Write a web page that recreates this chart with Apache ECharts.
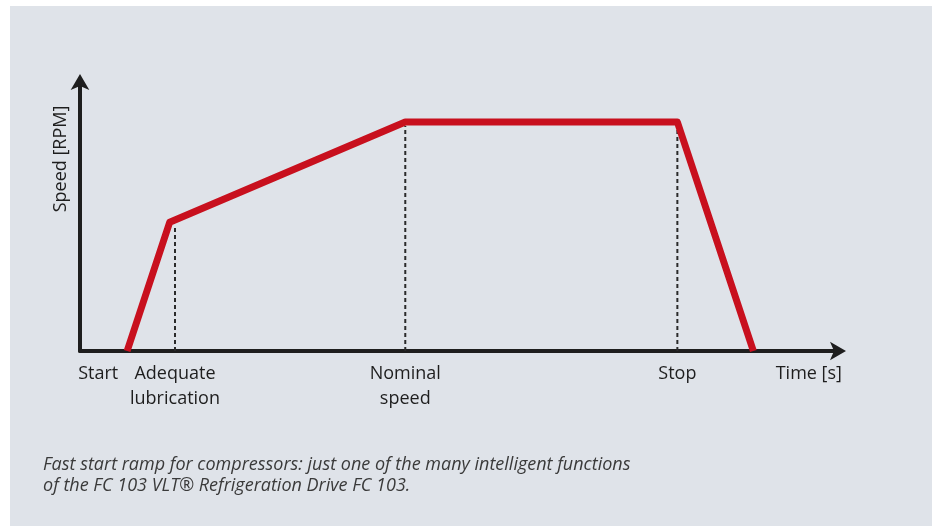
<!DOCTYPE html>
<html><head><meta charset="utf-8">
<script src="https://cdn.jsdelivr.net/npm/echarts@6/dist/echarts.min.js"></script>
<style>
html,body{margin:0;padding:0;background:#fff;}
#bg{position:absolute;left:10px;top:6px;width:922px;height:520px;background:#dfe3e9;}
#c{position:absolute;left:0;top:0;width:937px;height:526px;}
</style></head><body>
<div id="bg"></div><div id="c"></div>
<script>
// Time (0-100 scale) and speed (0-100 scale) of the ramp profile
const rampTime  = [6.2, 11.8, 42.8, 78.6, 88.6];
const rampSpeed = [0, 47.5, 84.5, 84.5, 0];
// dashed markers: time and top speed
const markTime  = [12.5, 42.8, 78.6];
const markTop   = [46.0, 83.0, 83.0];
// x-axis labels
const tickValues = [2.4, 12.5, 42.8, 78.6, 95.9];
const tickLabels = ['Start', 'Adequate\nlubrication', 'Nominal\nspeed', 'Stop', 'Time [s]'];
const yName = 'Speed [RPM]';
const caption = 'Fast start ramp for compressors: just one of the many intelligent functions\nof the FC 103 VLT® Refrigeration Drive FC 103.';

const FONT = 'Open Sans';
const chart = echarts.init(document.getElementById('c'), null, {renderer:'canvas'});
const series = [{
  type:'line', data: rampTime.map((t,i)=>[t, rampSpeed[i]]), symbol:'none', z:5,
  lineStyle:{color:'#c8101e', width:7, join:'round'}
}];
markTime.forEach((t,i)=>{
  series.push({type:'line', data:[[t,0],[t,markTop[i]]], symbol:'none', z:3,
    lineStyle:{color:'#2a2a2a', width:2, type:[4,3]}});
});
chart.setOption({
  animation:false,
  backgroundColor:'transparent',
  grid:{left:80, right:97, top:80, bottom:175},
  xAxis:{type:'value', min:0, max:100,
    axisLine:{show:true, onZero:false, lineStyle:{color:'#1e1e1e', width:4}, symbol:['none','arrow'], symbolSize:[14,16], symbolOffset:[0,6]},
    axisTick:{show:false}, splitLine:{show:false},
    axisLabel:{customValues:tickValues, formatter:(v)=>{const i=tickValues.indexOf(v); return i>=0?tickLabels[i]:'';},
      color:'#1e1e1e', fontFamily:FONT, fontSize:18, lineHeight:25, margin:10, showMinLabel:true, showMaxLabel:true}
  },
  yAxis:{type:'value', min:0, max:100,
    axisLine:{show:true, lineStyle:{color:'#1e1e1e', width:4}, symbol:['none','arrow'], symbolSize:[14,16], symbolOffset:[0,6]},
    axisTick:{show:false}, splitLine:{show:false}, axisLabel:{show:false}
  },
  graphic:[
    {type:'text', x:61, y:159, rotation:Math.PI/2, style:{text:yName, font:'18px "'+FONT+'"', fill:'#1e1e1e', align:'center', verticalAlign:'middle'}}
  ],
  title:{text:caption, left:38, top:449, textStyle:{fontFamily:FONT, fontStyle:'italic', fontWeight:'normal', fontSize:18, lineHeight:21, color:'#3a3a3a'}},
  series: series
});
</script></body></html>
